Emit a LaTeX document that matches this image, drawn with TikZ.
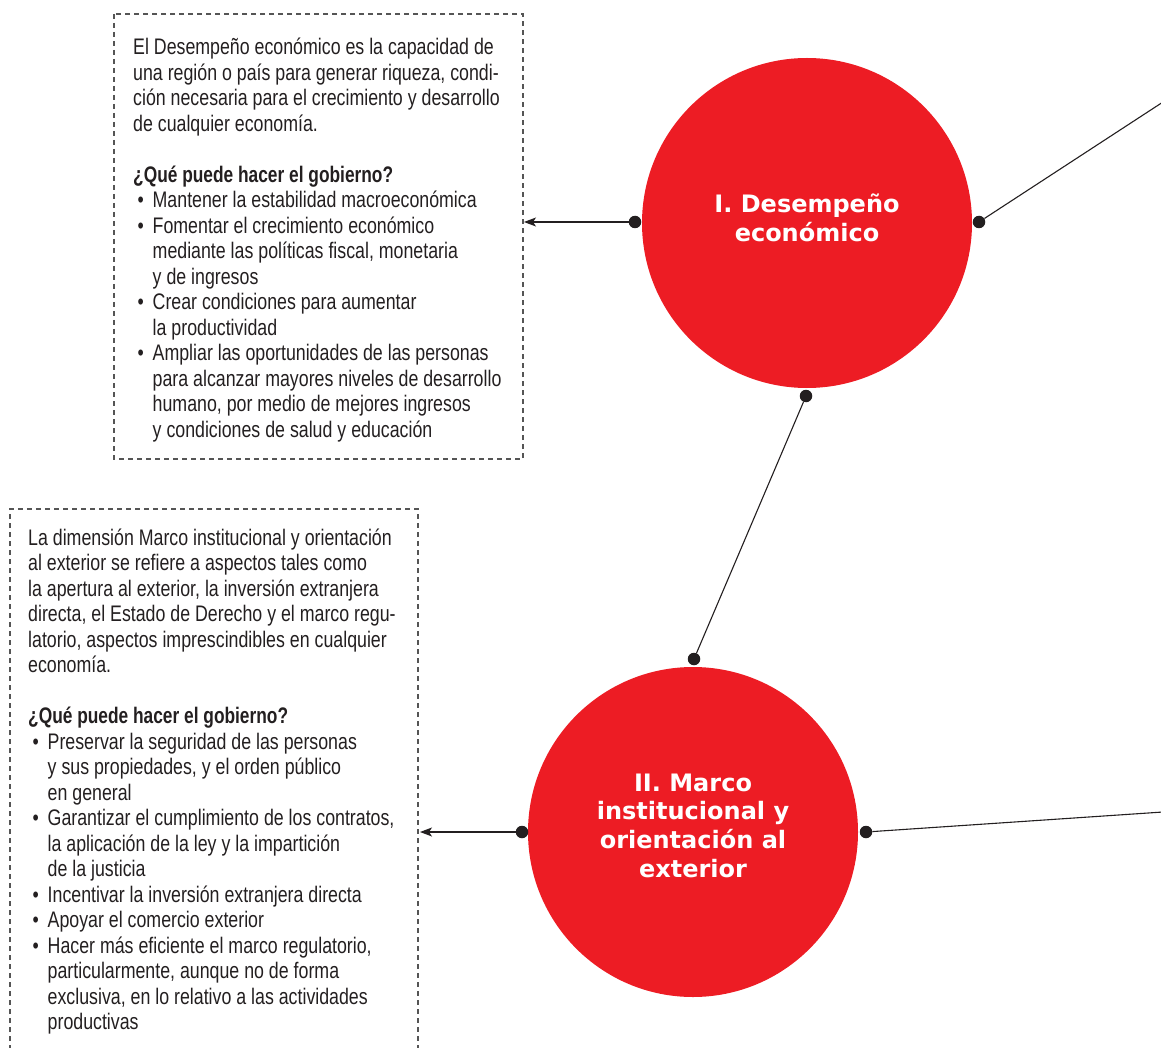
\documentclass[tikz,border=0pt]{standalone}
\usepackage{fontspec}
\setmainfont{Liberation Sans}
\newfontfamily\bodyfont[FakeStretch=0.79,BoldFeatures={FakeStretch=0.77}]{Liberation Sans}
\newfontfamily\circfont{DejaVu Sans}
\usetikzlibrary{arrows.meta}
\definecolor{cred}{HTML}{ED1C24}
\definecolor{cdark}{HTML}{231F20}
\definecolor{cdash}{HTML}{555555}
\newlength{\bhang}\setlength{\bhang}{19.5pt}
\newcommand{\bitem}{\par\hangindent=\bhang\hangafter=1\noindent\makebox[\bhang][l]{\hspace{4.5pt}•}}
\begin{document}
\begin{tikzpicture}[x=1pt,y=-1pt,
  bigcirc/.style={circle, fill=cred, minimum size=330pt, inner sep=0pt},
  dotnode/.style={circle, fill=cdark, minimum size=12.5pt, inner sep=0pt},
  conn/.style={draw=cdark, line width=1.1pt},
  arr/.style={conn, -{Stealth[length=12pt,width=9pt,inset=3pt]}},
  dashbox/.style={draw=cdash, line width=1.1pt, dash pattern=on 5pt off 4pt},
  ctext/.style={text=white, inner sep=0pt, font=\circfont\bfseries\fontsize{24}{28.8}\selectfont},
  btext/.style={text=cdark, inner sep=0pt, anchor=base west}]
\useasboundingbox (0,0) rectangle (1161,1048);

% dashed boxes
\draw[dashbox] (114,14) rectangle (523,459);
\draw[dashbox] (10,1050) -- (10,509) -- (418,509) -- (418,1050);

% circles
\node[bigcirc] (c1) at (807,223) {};
\node[bigcirc] (c2) at (693,832) {};

% circle labels
\node[ctext, anchor=base] (l1) at (807,213) {\begin{tabular}[t]{@{}c@{}}I. Desempeño\\económico\end{tabular}};
\node[ctext, anchor=base] (l2) at (693,791) {\begin{tabular}[t]{@{}c@{}}II. Marco\\institucional y\\orientación al\\exterior\end{tabular}};

% dots
\node[dotnode] (d1l) at (635,222) {};
\node[dotnode] (d1r) at (979,222) {};
\node[dotnode] (d1b) at (806,396) {};
\node[dotnode] (d2t) at (694,659) {};
\node[dotnode] (d2l) at (522,832) {};
\node[dotnode] (d2r) at (866,832) {};

% free ends
\coordinate (e1) at (1163,102);
\coordinate (e2) at (1163,812);
\coordinate (a1) at (524,222);
\coordinate (a2) at (420,832);

% connectors
\draw[conn] (d1r) -- (e1);
\draw[conn] (d2r) -- (e2);
\draw[conn] (d1b) -- (d2t);
\draw[arr] (d1l) -- (a1);
\draw[arr] (d2l) -- (a2);

% text box 1
\node[btext] (t1) at (133,55) {\begin{minipage}[t]{420pt}\bodyfont\fontsize{22.5}{25.5}\selectfont\raggedright
El Desempeño económico es la capacidad de\\
una región o país para generar riqueza, condi-\\
ción necesaria para el crecimiento y desarrollo\\
de cualquier economía.\\[25.5pt]
{\bfseries ¿Qué puede hacer el gobierno?}
\bitem Mantener la estabilidad macroeconómica
\bitem Fomentar el crecimiento económico\newline
mediante las políticas fiscal, monetaria\newline
y de ingresos
\bitem Crear condiciones para aumentar\newline
la productividad
\bitem Ampliar las oportunidades de las personas\newline
para alcanzar mayores niveles de desarrollo\newline
humano, por medio de mejores ingresos\newline
y condiciones de salud y educación\par
\end{minipage}};

% text box 2
\node[btext] (t2) at (28,545) {\begin{minipage}[t]{420pt}\bodyfont\fontsize{22.5}{25.5}\selectfont\raggedright
La dimensión Marco institucional y orientación\\
al exterior se refiere a aspectos tales como\\
la apertura al exterior, la inversión extranjera\\
directa, el Estado de Derecho y el marco regu-\\
latorio, aspectos imprescindibles en cualquier\\
economía.\\[25.5pt]
{\bfseries ¿Qué puede hacer el gobierno?}
\bitem Preservar la seguridad de las personas\newline
y sus propiedades, y el orden público\newline
en general
\bitem Garantizar el cumplimiento de los contratos,\newline
la aplicación de la ley y la impartición\newline
de la justicia
\bitem Incentivar la inversión extranjera directa
\bitem Apoyar el comercio exterior
\bitem Hacer más eficiente el marco regulatorio,\newline
particularmente, aunque no de forma\newline
exclusiva, en lo relativo a las actividades\newline
productivas\par
\end{minipage}};
\end{tikzpicture}
\end{document}
